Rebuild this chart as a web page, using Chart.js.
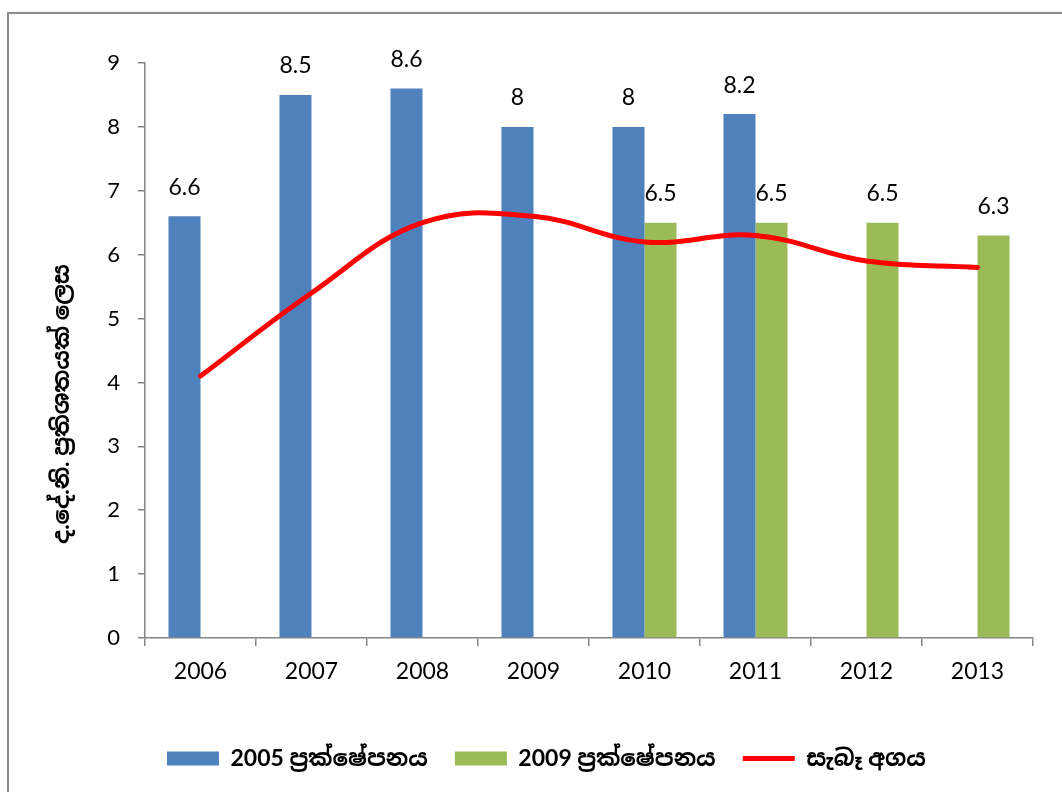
<!DOCTYPE html>
<html>
<head>
<meta charset="utf-8">
<script src="https://cdn.jsdelivr.net/npm/chart.js@4/dist/chart.umd.min.js"></script>
<style>
  html, body { margin: 0; padding: 0; background: #fff; }
  #wrap { position: relative; width: 1062px; height: 792px; overflow: hidden; }
  #frame { position: absolute; left: 7px; top: 12px; width: 1100px; height: 820px;
           border-left: 2px solid #8a8a8a; border-top: 2px solid #8a8a8a; box-sizing: border-box; }
  canvas { position: absolute; left: 0; top: 0; }
</style>
</head>
<body>
<div id="wrap">
  <div id="frame"></div>
  <canvas id="c" width="1062" height="792"></canvas>
</div>
<script>
const categories = ['2006', '2007', '2008', '2009', '2010', '2011', '2012', '2013'];
const proj2005 = [6.6, 8.5, 8.6, 8, 8, 8.2, null, null];
const proj2009 = [null, null, null, null, 6.5, 6.5, 6.5, 6.3];
const actual = [4.1, 5.4, 6.5, 6.6, 6.2, 6.3, 5.9, 5.8];
const seriesNames = ['2005 ප්‍රක්ෂේපනය', '2009 ප්‍රක්ෂේපනය', 'සැබෑ අගය'];
const yTitle = 'ද.දේ.නි. ප්‍රතිශතයක් ලෙස';
const yTicks = [0, 1, 2, 3, 4, 5, 6, 7, 8, 9];

const baseFont = "Lato, 'Open Sans', 'Noto Sans', 'Noto Sans Sinhala', sans-serif";
const axisColor = '#868686';

const barLabels = {
  id: 'barLabels',
  afterDatasetsDraw(chart) {
    const ctx = chart.ctx;
    ctx.save();
    ctx.font = '23px ' + baseFont;
    ctx.fillStyle = '#000';
    ctx.textAlign = 'center';
    ctx.textBaseline = 'middle';
    chart.data.datasets.forEach((ds, i) => {
      if (ds.type !== 'bar') return;
      const meta = chart.getDatasetMeta(i);
      meta.data.forEach((el, j) => {
        const v = ds.data[j];
        if (v === null || v === undefined) return;
        ctx.fillText(String(v), el.x, el.y - 29);
      });
    });
    ctx.restore();
  }
};

const yTitlePlugin = {
  id: 'yTitlePlugin',
  afterDraw(chart) {
    const ctx = chart.ctx;
    ctx.save();
    ctx.font = 'bold 23px ' + baseFont;
    ctx.fillStyle = '#000';
    ctx.textAlign = 'center';
    ctx.textBaseline = 'middle';
    ctx.translate(62, 404);
    ctx.rotate(-Math.PI / 2);
    ctx.fillText(yTitle, 0, 0);
    ctx.restore();
  }
};

new Chart(document.getElementById('c'), {
  data: {
    labels: categories,
    datasets: [
      { type: 'bar', label: seriesNames[0], data: proj2005, backgroundColor: '#4F81BD',
        borderWidth: 0, order: 2, pointStyle: 'rect',
        categoryPercentage: 0.577, barPercentage: 1.0 },
      { type: 'bar', label: seriesNames[1], data: proj2009, backgroundColor: '#9BBB59',
        borderWidth: 0, order: 2, pointStyle: 'rect',
        categoryPercentage: 0.577, barPercentage: 1.0 },
      { type: 'line', label: seriesNames[2], data: actual, borderColor: '#FF0000',
        backgroundColor: '#FF0000', borderWidth: 5, pointRadius: 0, pointHoverRadius: 0,
        pointStyle: 'line', tension: 0.4, fill: false, order: 0, borderCapStyle: 'round' }
    ]
  },
  options: {
    responsive: false,
    animation: false,
    devicePixelRatio: 1,
    layout: { padding: { top: 63, right: 29, bottom: 12, left: 60 } },
    plugins: {
      tooltip: { enabled: false },
      legend: {
        position: 'bottom',
        labels: {
          usePointStyle: true,
          pointStyleWidth: 52,
          boxHeight: 14,
          padding: 27,
          color: '#000',
          sort: (a, b) => a.datasetIndex - b.datasetIndex,
          font: { family: baseFont, size: 23, weight: 'bold' }
        }
      }
    },
    scales: {
      x: {
        type: 'category',
        offset: true,
        grid: { display: true, offset: true, drawOnChartArea: false, drawTicks: true,
                tickLength: 8, color: axisColor, lineWidth: 1.5 },
        border: { display: true, color: axisColor, width: 1.5 },
        ticks: { color: '#000', padding: 12, font: { family: baseFont, size: 23 } },
        afterFit(s) { s.height = 82; }
      },
      y: {
        min: 0, max: 9,
        afterBuildTicks(s) { s.ticks = yTicks.map(v => ({ value: v })); },
        grid: { display: true, drawOnChartArea: false, drawTicks: true,
                tickLength: 7, color: axisColor, lineWidth: 1.5 },
        border: { display: true, color: axisColor, width: 1.5 },
        ticks: { color: '#000', padding: 18, font: { family: baseFont, size: 22 } },
        title: { display: false },
        afterFit(s) { s.width = 85; }
      }
    }
  },
  plugins: [barLabels, yTitlePlugin]
});
</script>
</body>
</html>
